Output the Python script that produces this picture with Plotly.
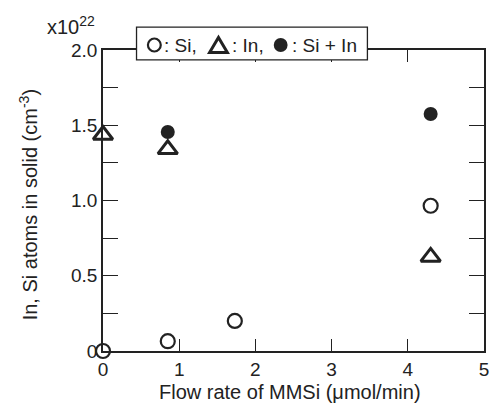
import plotly.graph_objects as go

# Data
si_x = [0.0, 0.85, 1.73, 4.3]
si_y = [0.0, 0.065, 0.20, 0.965]
in_x = [0.0, 0.85, 4.3]
in_y = [1.435, 1.34, 0.625]
sum_x = [0.85, 4.3]
sum_y = [1.455, 1.575]

x_ticks = [0, 1, 2, 3, 4, 5]
y_ticks = [0, 0.25, 0.5, 0.75, 1.0, 1.25, 1.5, 1.75, 2.0]
y_labels = ["0", "", "0.5", "", "1.0", "", "1.5", "", "2.0"]

FONT = "Liberation Sans, Arial, sans-serif"
INK = "#222222"

fig = go.Figure()
fig.add_trace(go.Scatter(x=si_x, y=si_y, mode="markers", name="Si", cliponaxis=False,
                         marker=dict(symbol="circle-open", size=14, color=INK, line=dict(width=2.2, color=INK))))
fig.add_trace(go.Scatter(x=in_x, y=in_y, mode="markers", name="In", cliponaxis=False,
                         marker=dict(symbol="triangle-up-open", size=17, color=INK, line=dict(width=3, color=INK))))
fig.add_trace(go.Scatter(x=sum_x, y=sum_y, mode="markers", name="Si + In", cliponaxis=False,
                         marker=dict(symbol="circle", size=14, color=INK, line=dict(width=0))))

ann = [
    dict(text="x10<sup>22</sup>", xref="paper", yref="paper", x=-0.085, y=1.083,
         showarrow=False, font=dict(size=20), xanchor="center", yanchor="middle"),
    dict(text="In, Si atoms in solid (cm<sup>-3</sup>)", xref="paper", yref="paper",
         x=-0.197, y=0.487, textangle=-90, showarrow=False, font=dict(size=20),
         xanchor="center", yanchor="middle"),
    dict(text="Flow rate of MMSi (\u03bcmol/min)", xref="paper", yref="paper",
         x=0.49, y=-0.135, showarrow=False, font=dict(size=20),
         xanchor="center", yanchor="middle"),
]
# legend box texts
txt_items = [(": Si,", 0.155), (": In,", 0.333), (": Si + In", 0.491)]
for t, xp in txt_items:
    ann.append(dict(text=t, xref="paper", yref="paper", x=xp, y=1.0166, showarrow=False,
                    font=dict(size=19), xanchor="left", yanchor="middle"))

# legend box and its key symbols (layout decorations in paper space)
shapes = [
    dict(type="rect", xref="paper", yref="paper", x0=0.088, x1=0.694, y0=0.967, y1=1.076,
         fillcolor="white", line=dict(color=INK, width=1.3), layer="above"),
    dict(type="circle", xref="paper", yref="paper", x0=0.1179, x1=0.1516, y0=0.9950, y1=1.0382,
         fillcolor="white", line=dict(color=INK, width=2.2), layer="above"),
    dict(type="path", xref="paper", yref="paper",
         path="M 0.2798 0.9917 L 0.3264 0.9917 L 0.3031 1.0415 Z",
         fillcolor="white", line=dict(color=INK, width=3), layer="above"),
    dict(type="circle", xref="paper", yref="paper", x0=0.4482, x1=0.4845, y0=0.9934, y1=1.0399,
         fillcolor=INK, line=dict(color=INK, width=0), layer="above"),
]

fig.update_layout(
    width=490, height=403,
    margin=dict(l=103, r=1, t=50, b=52),
    paper_bgcolor="white", plot_bgcolor="white",
    showlegend=False,
    font=dict(family=FONT, size=19, color=INK),
    xaxis=dict(range=[0, 5], tickvals=x_ticks, ticks="inside", ticklen=12, tickwidth=1.3,
               tickcolor=INK, showline=True, linecolor=INK, linewidth=1.5, mirror="ticks",
               showgrid=False, zeroline=False, tickfont=dict(size=19), ticklabelstandoff=0,
               ticklabeloverflow="allow"),
    yaxis=dict(range=[0, 2], tickvals=y_ticks, ticktext=y_labels, ticks="inside", ticklen=15,
               tickwidth=1.3, tickcolor=INK, showline=True, linecolor=INK, linewidth=1.5,
               mirror="ticks", showgrid=False, zeroline=False, tickfont=dict(size=19),
               ticklabeloverflow="allow"),
    shapes=shapes,
    annotations=ann,
)

fig.write_html("out.html")
